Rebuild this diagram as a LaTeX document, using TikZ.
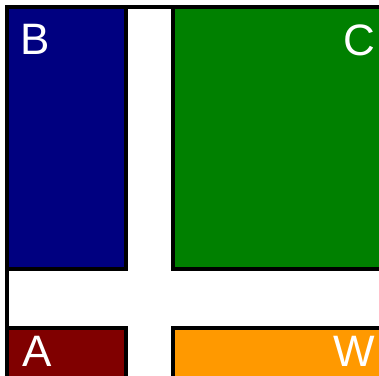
\documentclass[tikz,border=0pt]{standalone}
\usepackage{fontspec}
\setmainfont{Liberation Sans}
\definecolor{cblue}{RGB}{0,0,128}
\definecolor{cgreen}{RGB}{0,128,0}
\definecolor{cred}{RGB}{128,0,0}
\definecolor{corange}{RGB}{255,153,0}
\tikzset{
  panel/.style={draw=black, line width=4pt},
  lbl/.style={text=white, inner sep=0pt, font=\fontsize{44}{44}\selectfont}
}
\begin{document}
\begin{tikzpicture}[x=1pt,y=-1pt]
\useasboundingbox (0,0) rectangle (379,375);
\fill[white] (0,0) rectangle (379,375);
\begin{scope}
\clip (0,0) rectangle (379,375);
\draw[panel, fill=cblue] (7,7) rectangle (126,269);
\draw[panel, fill=cgreen] (173,7) rectangle (400,269);
\draw[panel, fill=cred] (7,328) rectangle (126,400);
\draw[panel, fill=corange] (173,328) rectangle (400,400);
\draw[line width=4pt] (7,400) -- (7,7) -- (400,7);
\end{scope}
\node[lbl, anchor=base west] (lb) at (20,54) {B};
\node[lbl, anchor=base east] (lc) at (375,55) {C};
\node[lbl, anchor=base west] (la) at (22,366) {A};
\node[lbl, anchor=base east] (lw) at (375,366) {W};
\end{tikzpicture}
\end{document}
